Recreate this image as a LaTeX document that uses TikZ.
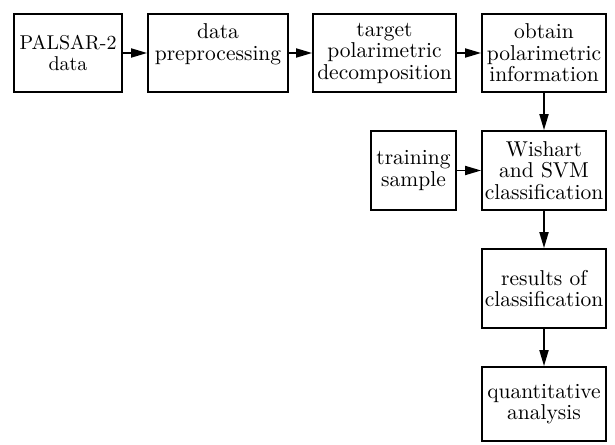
\documentclass[tikz,border=0pt]{standalone}
\usepackage{fontspec}
\newfontfamily\lmten{lmroman10-regular.otf}
\usetikzlibrary{arrows.meta}
\begin{document}
\begin{tikzpicture}[x=1pt,y=-1pt,
  box/.style={draw,line width=1.8pt,inner sep=0pt,align=center,
    font=\lmten\fontsize{21.5}{21.5}\selectfont},
  arr/.style={line width=1.8pt,-{Triangle[length=16pt,width=9pt]}}]
\useasboundingbox (0,0) rectangle (615,444);
\node[box,minimum width=108pt,minimum height=78pt,font=\lmten\fontsize{20}{21.5}\selectfont] (b1) at (68,53) {PALSAR-2\\data};
\node[box,minimum width=140pt,minimum height=78pt] (b2) at (218,53) {data\\preprocessing\\\mbox{}};
\node[box,minimum width=143pt,minimum height=78pt] (b3) at (384.5,53) {target\\polarimetric\\decomposition};
\node[box,minimum width=124pt,minimum height=78pt] (b4) at (544,53) {obtain\\polarimetric\\information};
\node[box,minimum width=85pt,minimum height=79pt] (ts) at (413.5,170.5) {training\\sample};
\node[box,minimum width=124pt,minimum height=79pt] (ws) at (544,170.5) {Wishart\\and SVM\\classification};
\node[box,minimum width=124pt,minimum height=79pt] (rs) at (544,288.5) {results of\\classification};
\node[box,minimum width=124pt,minimum height=74pt] (qa) at (544,404) {quantitative\\analysis};
\draw[arr] (b1) -- (b2);
\draw[arr] (b2) -- (b3);
\draw[arr] (b3) -- (b4);
\draw[arr] (b4) -- (ws);
\draw[arr] (ts) -- (ws);
\draw[arr] (ws) -- (rs);
\draw[arr] (rs) -- (qa);
\end{tikzpicture}
\end{document}
